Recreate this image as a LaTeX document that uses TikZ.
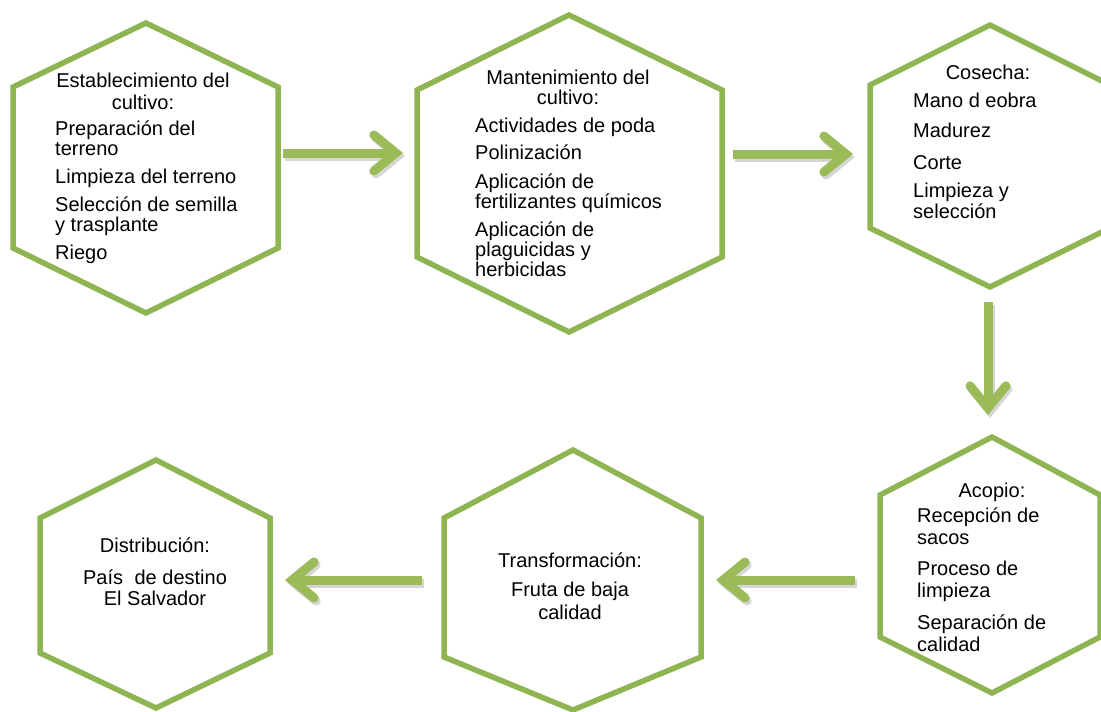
\documentclass[tikz,border=0pt]{standalone}
\usepackage{fontspec}
\setmainfont{Liberation Sans}
\usetikzlibrary{arrows.meta}
\definecolor{hexgreen}{HTML}{8FB552}
\definecolor{arrgreen}{HTML}{9BBB59}
\begin{document}
\begin{tikzpicture}[x=1pt,y=-1pt,
  hexline/.style={draw=hexgreen, line width=5.5pt, line join=miter, fill=white},
  flow/.style={draw=arrgreen, line width=9pt, -{Straight Barb[length=22pt,width=36pt,line width=9pt,line cap=round]}},
  flowshadow/.style={draw=black!16, line width=9pt, -{Straight Barb[length=22pt,width=36pt,line width=9pt,line cap=round]}},
  title/.style={anchor=base, inner sep=0pt},
  items/.style={anchor=base west, inner sep=0pt}]
\useasboundingbox (0,0) rectangle (1101,712);
\fill[white] (0,0) rectangle (1101,712);

% hexagons
\draw[hexline] (146,23) -- (278,87) -- (278,248) -- (146,313) -- (13,248) -- (13,87) -- cycle;
\draw[hexline] (569,15) -- (722,90) -- (722,257) -- (569,332) -- (417,257) -- (417,90) -- cycle;
\draw[hexline] (990,25) -- (1110,85) -- (1110,228) -- (990,287) -- (870,228) -- (870,85) -- cycle;
\draw[hexline] (992,437) -- (1100,495) -- (1100,637) -- (992,693) -- (880,637) -- (880,495) -- cycle;
\draw[hexline] (573,450) -- (701,518) -- (701,657) -- (573,710) -- (444,657) -- (444,518) -- cycle;
\draw[hexline] (156,460) -- (270,518) -- (270,653) -- (156,708) -- (40,653) -- (40,518) -- cycle;

% texts
\node[title, font=\fontsize{20}{22}\selectfont] (t1) at (143,87)
  {\parbox[t]{220pt}{\centering Establecimiento del\\cultivo:}};
\node[items, font=\fontsize{20}{20}\selectfont] (i1) at (55,135)
  {\parbox[t]{220pt}{\raggedright Preparación del\\terreno\\[8.5pt]Limpieza del terreno\\[8pt]Selección de semilla\\y trasplante\\[8pt]Riego}};

\node[title, font=\fontsize{20}{20}\selectfont] (t2) at (568,84)
  {\parbox[t]{220pt}{\centering Mantenimiento del\\cultivo:}};
\node[items, font=\fontsize{20}{20}\selectfont] (i2) at (475,132)
  {\parbox[t]{230pt}{\raggedright Actividades de poda\\[7pt]Polinización\\[9pt]Aplicación de\\fertilizantes químicos\\[8pt]Aplicación de\\plaguicidas y\\herbicidas}};

\node[title, font=\fontsize{20}{20}\selectfont] (t3) at (988,79) {Cosecha:};
\node[items, font=\fontsize{20}{21}\selectfont] (i3) at (913,107)
  {\parbox[t]{180pt}{\raggedright Mano d eobra\\[9pt]Madurez\\[11pt]Corte\\[7pt]Limpieza y\\selección}};

\node[title, font=\fontsize{20}{20}\selectfont] (t4) at (992,497) {Acopio:};
\node[items, font=\fontsize{20}{22.5}\selectfont] (i4) at (917,522)
  {\parbox[t]{180pt}{\raggedright Recepción de\\sacos\\[8pt]Proceso de\\limpieza\\[9pt]Separación de\\calidad}};

\node[title, font=\fontsize{20}{23}\selectfont] (t5) at (570,567)
  {\parbox[t]{220pt}{\centering Transformación:\\[6pt]Fruta de baja\\calidad}};

\node[title, font=\fontsize{20}{21}\selectfont] (t6) at (155,552)
  {\parbox[t]{220pt}{\centering Distribución:\\[11pt]País\hspace{0.3em} de destino\\El Salvador}};

% connector ends
\coordinate (a1s) at (283,153); \coordinate (a1e) at (403,153);
\coordinate (a2s) at (733,154); \coordinate (a2e) at (853,154);
\coordinate (a3s) at (988,302); \coordinate (a3e) at (988,415);
\coordinate (a4s) at (855,580); \coordinate (a4e) at (716,580);
\coordinate (a5s) at (422,580); \coordinate (a5e) at (285,580);

\foreach \s/\e in {a1s/a1e,a2s/a2e,a3s/a3e,a4s/a4e,a5s/a5e}{
  \draw[flowshadow] ([shift={(2,3)}]\s) -- ([shift={(2,3)}]\e);
  \draw[flow] (\s) -- (\e);
}
\end{tikzpicture}
\end{document}
